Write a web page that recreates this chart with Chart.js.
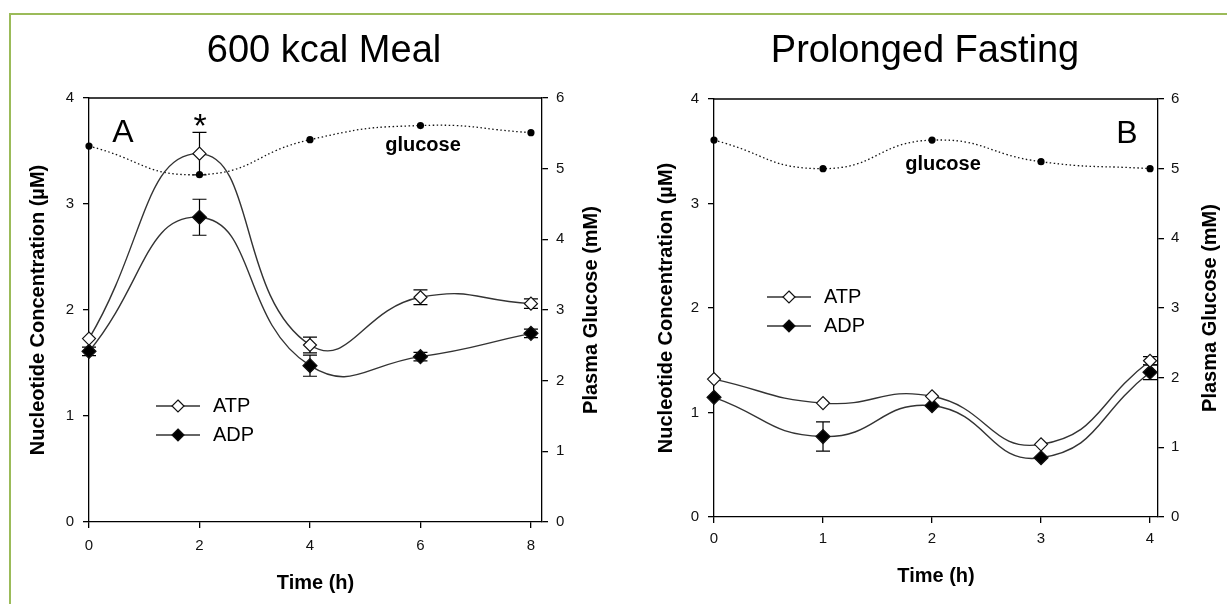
<!DOCTYPE html>
<html>
<head>
<meta charset="utf-8">
<title>ATP / ADP and plasma glucose</title>
<script src="https://cdn.jsdelivr.net/npm/chart.js@4.4.1/dist/chart.umd.min.js"></script>
<style>
  html, body { margin: 0; padding: 0; background: #fff; }
  body { position: relative; width: 1227px; height: 604px; overflow: hidden; }
  .rule { position: absolute; left: 9px; top: 13px; width: 1240px; height: 620px;
          border-top: 2px solid #9bbb59; border-left: 2px solid #9bbb59; }
  canvas { position: absolute; top: 0; }
  #meal { left: 0; }
  #fast { left: 623px; }
</style>
</head>
<body>
<div class="rule"></div>
<canvas id="meal" width="623" height="604"></canvas>
<canvas id="fast" width="604" height="604"></canvas>
<script>
// values
const mealHours = [0, 2, 4, 6, 8];
const mealATP = [1.73, 3.475, 1.67, 2.12, 2.06];
const mealATPErr = [0, 0.2, 0.075, 0.07, 0.045];
const mealADP = [1.61, 2.875, 1.475, 1.56, 1.78];
const mealADPErr = [0.04, 0.17, 0.1, 0.04, 0.04];
const mealGlucose = [5.32, 4.915, 5.41, 5.61, 5.51];

const fastHours = [0, 1, 2, 3, 4];
const fastATP = [1.32, 1.09, 1.155, 0.695, 1.495];
const fastATPErr = [0, 0, 0, 0, 0.04];
const fastADP = [1.145, 0.77, 1.065, 0.567, 1.385];
const fastADPErr = [0, 0.14, 0, 0, 0.07];
const fastGlucose = [5.41, 5.0, 5.41, 5.1, 5.0];

const nucleotideTicks = [0, 1, 2, 3, 4];
const glucoseTicks = [0, 1, 2, 3, 4, 5, 6];
const mealTimeTicks = [0, 2, 4, 6, 8];
const fastTimeTicks = [0, 1, 2, 3, 4];

const FONT = "'Liberation Sans', Arial, Helvetica, sans-serif";
Chart.defaults.font.family = FONT;

function pts(xs, ys) {
  return xs.map((x, i) => ({ x: x, y: ys[i] }));
}

function diamond(ctx, x, y, r) {
  ctx.beginPath();
  ctx.moveTo(x, y - r);
  ctx.lineTo(x + r, y);
  ctx.lineTo(x, y + r);
  ctx.lineTo(x - r, y);
  ctx.closePath();
}

// error bars behind the markers
const errorBars = {
  id: 'errorBars',
  beforeDatasetsDraw(chart) {
    const ctx = chart.ctx;
    chart.data.datasets.forEach((ds, i) => {
      if (!ds.errors) return;
      const yScale = chart.scales[ds.yAxisID];
      const meta = chart.getDatasetMeta(i);
      ctx.save();
      ctx.strokeStyle = '#000';
      ctx.lineWidth = 1.2;
      meta.data.forEach((pt, j) => {
        const e = ds.errors[j];
        if (!e) return;
        const v = ds.data[j].y;
        const top = yScale.getPixelForValue(v + e);
        const bot = yScale.getPixelForValue(v - e);
        ctx.beginPath();
        ctx.moveTo(pt.x, top); ctx.lineTo(pt.x, bot);
        ctx.moveTo(pt.x - 7, top); ctx.lineTo(pt.x + 7, top);
        ctx.moveTo(pt.x - 7, bot); ctx.lineTo(pt.x + 7, bot);
        ctx.stroke();
      });
      ctx.restore();
    });
  }
};

// top edge of the plot box
const frameTop = {
  id: 'frameTop',
  afterDraw(chart) {
    const { ctx, chartArea } = chart;
    ctx.save();
    ctx.strokeStyle = '#000';
    ctx.lineWidth = 1.3;
    ctx.beginPath();
    ctx.moveTo(chartArea.left, chartArea.top);
    ctx.lineTo(chartArea.right, chartArea.top);
    ctx.stroke();
    ctx.restore();
  }
};

function legendPlugin(pos) {
  return {
    id: 'inlineLegend',
    afterDatasetsDraw(chart) {
      const { ctx, chartArea } = chart;
      const x = chartArea.left + pos.x;
      let y = chartArea.top + pos.y;
      chart.data.datasets.forEach(ds => {
        if (!ds.errors) return;
        ctx.save();
        ctx.strokeStyle = ds.borderColor;
        ctx.lineWidth = ds.borderWidth;
        ctx.beginPath();
        ctx.moveTo(x - 22, y); ctx.lineTo(x + 22, y);
        ctx.stroke();
        diamond(ctx, x, y, 6);
        ctx.fillStyle = ds.pointBackgroundColor;
        ctx.fill();
        ctx.lineWidth = ds.pointBorderWidth;
        ctx.strokeStyle = ds.pointBorderColor;
        ctx.stroke();
        ctx.fillStyle = '#000';
        ctx.font = '20px ' + FONT;
        ctx.textAlign = 'left';
        ctx.textBaseline = 'middle';
        ctx.fillText(ds.label, x + 35, y);
        ctx.restore();
        y += 29;
      });
    }
  };
}

function textPlugin(items) {
  return {
    id: 'panelText',
    afterDraw(chart) {
      const { ctx, chartArea } = chart;
      items.forEach(it => {
        ctx.save();
        ctx.font = it.font;
        ctx.fillStyle = '#000';
        ctx.textAlign = 'center';
        ctx.textBaseline = 'middle';
        ctx.translate(chartArea.left + it.x, chartArea.top + it.y);
        if (it.rotate) ctx.rotate(it.rotate);
        ctx.fillText(it.text, 0, 0);
        ctx.restore();
      });
    }
  };
}

function nucleotideSet(label, hours, values, errors, filled) {
  return {
    label: label,
    data: pts(hours, values),
    errors: errors,
    yAxisID: 'y',
    borderColor: '#333',
    borderWidth: 1.4,
    pointStyle: 'rectRot',
    pointRadius: filled ? 7 : 6.5,
    pointBackgroundColor: filled ? '#000' : '#fff',
    pointBorderColor: '#111',
    pointBorderWidth: 1.2,
    tension: 0.5,
    clip: false
  };
}

function glucoseSet(hours, values) {
  return {
    label: 'glucose',
    data: pts(hours, values),
    yAxisID: 'y2',
    borderColor: '#111',
    borderWidth: 1.3,
    borderDash: [1.5, 2.5],
    pointStyle: 'circle',
    pointRadius: 3.6,
    pointBackgroundColor: '#000',
    pointBorderColor: '#000',
    pointBorderWidth: 0,
    tension: 0.5,
    clip: false
  };
}

function axisStyle(tickPad) {
  return {
    grid: { drawOnChartArea: false, drawTicks: true, tickLength: 6, color: '#000', lineWidth: 1.3 },
    border: { display: true, color: '#000', width: 1.3 },
    ticks: { font: { size: 15, family: FONT }, color: '#111', padding: tickPad, autoSkip: false, maxRotation: 0 }
  };
}

function makePanel(id, p) {
  const x = axisStyle(p.xTickPad);
  const y = axisStyle(9);
  const y2 = axisStyle(p.y2TickPad);
  return new Chart(document.getElementById(id), {
    type: 'line',
    data: {
      datasets: [
        nucleotideSet('ATP', p.hours, p.atp, p.atpErr, false),
        nucleotideSet('ADP', p.hours, p.adp, p.adpErr, true),
        glucoseSet(p.hours, p.glucose)
      ]
    },
    options: {
      responsive: false,
      animation: false,
      devicePixelRatio: 1,
      layout: { padding: { left: p.padLeft, right: 0, top: 0, bottom: 0 } },
      plugins: {
        legend: { display: false },
        tooltip: { enabled: false },
        title: {
          display: true,
          text: p.title,
          color: '#000',
          font: { size: 38, weight: 'normal', family: FONT },
          padding: { top: 29, bottom: p.titleGap }
        }
      },
      scales: {
        x: Object.assign(x, {
          type: 'linear', position: 'bottom', min: 0, max: p.xMax,
          afterBuildTicks: s => { s.ticks = p.timeTicks.map(v => ({ value: v })); },
          afterFit: s => { s.height = p.xHeight; },
          title: { display: true, text: 'Time (h)', color: '#000',
                   font: { size: 20, weight: 'bold', family: FONT },
                   padding: { top: 0, bottom: p.xTitlePad } }
        }),
        y: Object.assign(y, {
          type: 'linear', position: 'left', min: 0, max: 4,
          afterBuildTicks: s => { s.ticks = nucleotideTicks.map(v => ({ value: v })); },
          afterFit: s => { s.width = p.yWidth; },
          title: { display: true, text: 'Nucleotide Concentration (\u00b5M)', color: '#000',
                   font: { size: 20, weight: 'bold', family: FONT },
                   padding: { top: p.yTitlePad, bottom: 0 } }
        }),
        y2: Object.assign(y2, {
          type: 'linear', position: 'right', min: 0, max: 6,
          afterBuildTicks: s => { s.ticks = glucoseTicks.map(v => ({ value: v })); },
          afterFit: s => { s.width = p.y2Width; }
        })
      }
    },
    plugins: [errorBars, frameTop, legendPlugin(p.legend), textPlugin(p.texts)]
  });
}

makePanel('meal', {
  title: '600 kcal Meal',
  hours: mealHours, atp: mealATP, atpErr: mealATPErr,
  adp: mealADP, adpErr: mealADPErr, glucose: mealGlucose,
  timeTicks: mealTimeTicks, xMax: 8.2,
  padLeft: 25, titleGap: 23.4, xHeight: 82, xTickPad: 9, xTitlePad: 9,
  yWidth: 64, yTitlePad: 1, y2Width: 81, y2TickPad: 8,
  legend: { x: 89, y: 308 },
  texts: [
    { text: 'A', x: 34, y: 35, font: '32px ' + FONT },
    { text: '*', x: 111, y: 29.5, font: '34px ' + FONT },
    { text: 'glucose', x: 334, y: 47.7, font: 'bold 20px ' + FONT },
    { text: 'Plasma Glucose (mM)', x: 502, y: 212, rotate: -Math.PI / 2, font: 'bold 20px ' + FONT }
  ]
});

makePanel('fast', {
  title: 'Prolonged Fasting',
  hours: fastHours, atp: fastATP, atpErr: fastATPErr,
  adp: fastADP, adpErr: fastADPErr, glucose: fastGlucose,
  timeTicks: fastTimeTicks, xMax: 4.073,
  padLeft: 0, titleGap: 24.4, xHeight: 87, xTickPad: 7, xTitlePad: 16,
  yWidth: 91, yTitlePad: 31, y2Width: 69, y2TickPad: 7,
  legend: { x: 75, y: 198 },
  texts: [
    { text: 'B', x: 413, y: 35, font: '32px ' + FONT },
    { text: 'glucose', x: 229, y: 65, font: 'bold 20px ' + FONT },
    { text: 'Plasma Glucose (mM)', x: 496, y: 209, rotate: -Math.PI / 2, font: 'bold 20px ' + FONT }
  ]
});
</script>
</body>
</html>
